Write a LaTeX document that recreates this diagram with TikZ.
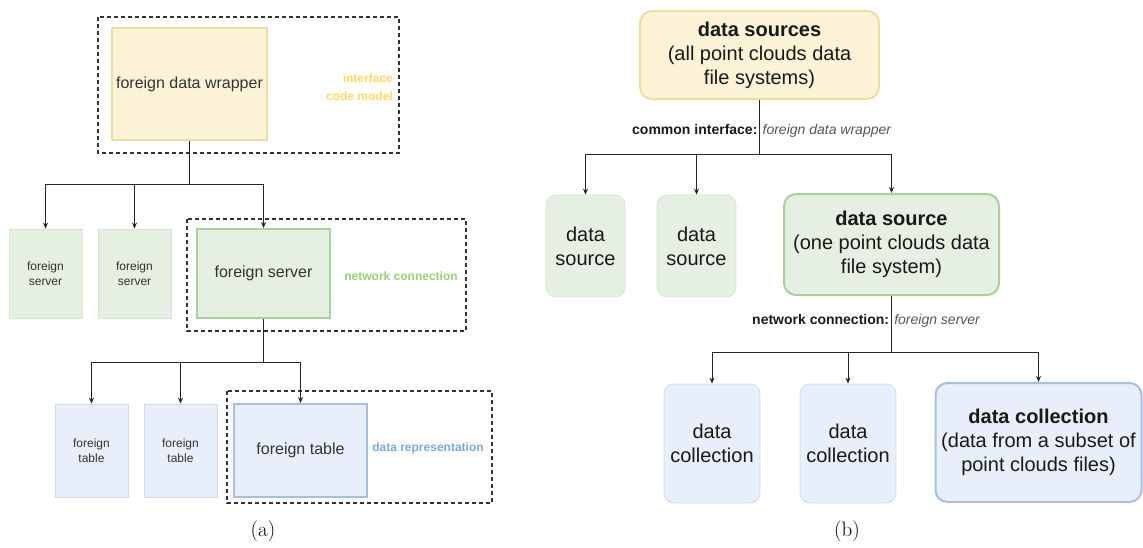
\documentclass[tikz,border=0pt]{standalone}
\usepackage{fontspec}
\setsansfont{Liberation Sans}
\usetikzlibrary{arrows.meta}
\definecolor{yfill}{HTML}{FCF2D6}
\definecolor{ydraw}{HTML}{EDDCA4}
\definecolor{gfill}{HTML}{E5F0E3}
\definecolor{gdraw}{HTML}{D2E5CE}
\definecolor{gdrawb}{HTML}{A9D09F}
\definecolor{bfill}{HTML}{E8EFFB}
\definecolor{bdraw}{HTML}{CDDAF0}
\definecolor{bdrawb}{HTML}{A8BFE2}
\definecolor{ylab}{HTML}{FFD966}
\definecolor{glab}{HTML}{97D077}
\definecolor{blab}{HTML}{7EA6E0}
\definecolor{txtdark}{HTML}{333333}
\definecolor{txtgray}{HTML}{555555}
\begin{document}
\begin{tikzpicture}[x=1pt,y=-1pt,
  conn/.style={draw=black!85, line width=0.9pt},
  arr/.style={conn, -{Stealth[length=6pt,width=5pt]}},
  dbox/.style={draw=black!80, line width=1.3pt, dash pattern=on 4pt off 3pt},
  abox/.style={rectangle, inner sep=2pt, align=center, text=txtdark, font=\sffamily\fontsize{12}{15}\selectfont, line width=0.8pt},
  aboxbig/.style={abox, line width=2pt, font=\sffamily\fontsize{16}{19}\selectfont},
  bbox/.style={rectangle, rounded corners=10pt, inner sep=2pt, align=center, text=black!90, font=\sffamily\fontsize{20}{24}\selectfont, line width=0.8pt},
  bboxbig/.style={bbox, line width=2pt, rounded corners=12pt},
  lab/.style={inner sep=0pt, font=\sffamily\bfseries\fontsize{12}{18}\selectfont},
  elab/.style={inner sep=0pt, anchor=west, text=black!90, font=\sffamily\fontsize{14}{16}\selectfont},
  captext/.style={inner sep=0pt, font=\fontsize{21}{23}\selectfont}
]
\useasboundingbox (0,0) rectangle (1143,547);

% ---------------- (a) ----------------
\draw[dbox] (98,17) rectangle (399,153);
\draw[dbox] (187,219) rectangle (466,331);
\draw[dbox] (227,391) rectangle (492,503);

\node[aboxbig, fill=yfill, draw=ydraw, minimum width=155pt, minimum height=112pt] (fdw) at (189.5,84) {foreign data wrapper};
\node[lab, text=ylab, align=right, anchor=east] (lint) at (393,87) {interface\\code model};

\node[abox, fill=gfill, draw=gdraw, minimum width=73pt, minimum height=89pt] (fs1) at (45.5,273.5) {foreign\\server};
\node[abox, fill=gfill, draw=gdraw, minimum width=73pt, minimum height=89pt] (fs2) at (134.5,273.5) {foreign\\server};
\node[aboxbig, fill=gfill, draw=gdrawb, minimum width=133pt, minimum height=89pt] (fs3) at (263.5,273.5) {foreign server};
\node[lab, text=glab] (lnet) at (401,276) {network connection};

\node[abox, fill=bfill, draw=bdraw, minimum width=73pt, minimum height=93pt] (ft1) at (91.5,450.5) {foreign\\table};
\node[abox, fill=bfill, draw=bdraw, minimum width=73pt, minimum height=93pt] (ft2) at (180.5,450.5) {foreign\\table};
\node[aboxbig, fill=bfill, draw=bdrawb, minimum width=133pt, minimum height=93pt] (ft3) at (300.5,450.5) {foreign table};
\node[lab, text=blab] (lrep) at (428,448) {data representation};

\coordinate (ja) at (189.5,184);
\draw[conn] (fdw.south) -- (ja);
\draw[arr] (ja) -| (fs1.north);
\draw[arr] (ja) -| (fs2.north);
\draw[arr] (ja) -| (fs3.north);

\coordinate (jb) at (263.5,362);
\draw[conn] (fs3.south) -- (jb);
\draw[arr] (jb) -| (ft1.north);
\draw[arr] (jb) -| (ft2.north);
\draw[arr] (jb) -| (ft3.north);

\node[captext] (capa) at (263,531) {(a)};

% ---------------- (b) ----------------
\node[bboxbig, fill=yfill, draw=ydraw, minimum width=239pt, minimum height=88pt] (top) at (759.5,55) {\textbf{data sources}\\(all point clouds data\\file systems)};

\node[bbox, fill=gfill, draw=gdraw, minimum width=79pt, minimum height=102pt] (ds1) at (585.5,246) {data\\source};
\node[bbox, fill=gfill, draw=gdraw, minimum width=79pt, minimum height=102pt] (ds2) at (696.5,246) {data\\source};
\node[bboxbig, fill=gfill, draw=gdrawb, minimum width=215pt, minimum height=101pt] (ds3) at (891.5,244.5) {\textbf{data source}\\(one point clouds data\\file system)};

\node[bbox, fill=bfill, draw=bdraw, minimum width=96pt, minimum height=119pt] (dc1) at (712,443.5) {data\\collection};
\node[bbox, fill=bfill, draw=bdraw, minimum width=96pt, minimum height=119pt] (dc2) at (848,443.5) {data\\collection};
\node[bboxbig, fill=bfill, draw=bdrawb, minimum width=206pt, minimum height=119pt] (dc3) at (1038.5,442.5) {\textbf{data collection}\\(data from a subset of\\point clouds files)};

\coordinate (jc) at (759.5,154);
\draw[conn] (top.south) -- (jc);
\draw[arr] (jc) -| (ds1.north);
\draw[arr] (jc) -| (ds2.north);
\draw[arr] (jc) -| (ds3.north);
\node[elab] (lci) at (632,131) {\textbf{common interface:} \textcolor{txtgray}{\textit{foreign data wrapper}}};

\coordinate (jd) at (891.5,352);
\draw[conn] (ds3.south) -- (jd);
\draw[arr] (jd) -| (dc1.north);
\draw[arr] (jd) -| (dc2.north);
\draw[arr] (jd) -| (dc3.north);
\node[elab] (lnc) at (752,321) {\textbf{network connection:} \textcolor{txtgray}{\textit{foreign server}}};

\node[captext] (capb) at (847,531) {(b)};
\end{tikzpicture}
\end{document}
